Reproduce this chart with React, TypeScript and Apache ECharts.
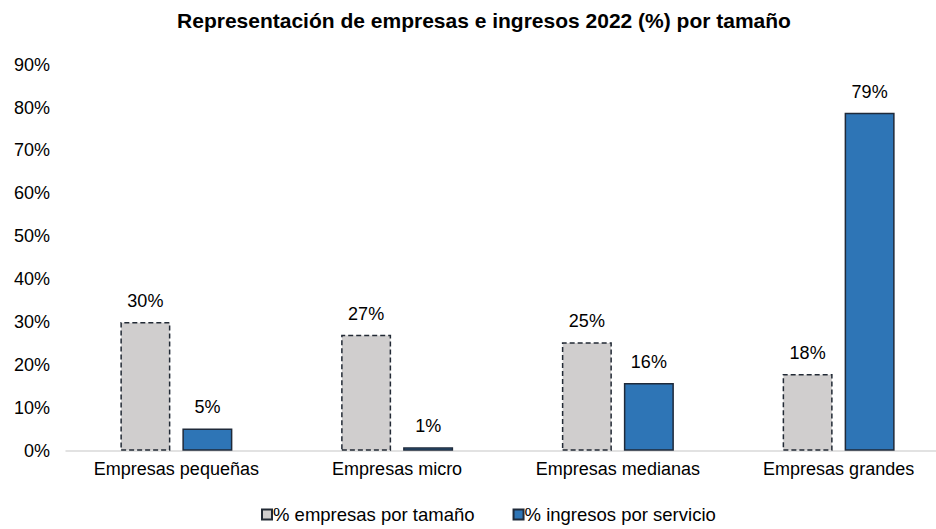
import React, { useEffect, useRef } from "react";
import * as echarts from "echarts";

const categories = ["Empresas pequeñas", "Empresas micro", "Empresas medianas", "Empresas grandes"];
const empresasPct = [30, 27, 25.3, 17.9];
const ingresosPct = [5.2, 0.8, 15.8, 78.8];
const seriesNames = ["% empresas por tamaño", "% ingresos por servicio"];
const titleText = "Representación de empresas e ingresos 2022 (%) por tamaño";

export default function App() {
  const ref = useRef<HTMLDivElement>(null);
  useEffect(() => {
    if (!ref.current) return;
    const chart = echarts.init(ref.current, undefined, { renderer: "svg" });
    const font = "Liberation Sans, Arial, sans-serif";
    chart.setOption({
      animation: false,
      backgroundColor: "#ffffff",
      textStyle: { fontFamily: font },
      title: {
        text: titleText,
        left: 479,
        top: 5,
        textAlign: "center",
        textStyle: { fontFamily: font, fontSize: 21, fontWeight: "bold", color: "#000000" },
      },
      legend: {
        bottom: 0,
        left: 256,
        orient: "horizontal",
        itemWidth: 10,
        itemHeight: 10,
        itemGap: 38,
        icon: "rect",
        textStyle: { fontFamily: font, fontSize: 18.5, color: "#000000", padding: [0, 0, 0, -4] },
        data: seriesNames,
      },
      grid: { left: 66, width: 883, top: 64.6, bottom: 78.3, containLabel: false },
      xAxis: {
        type: "category",
        data: categories,
        axisLine: { lineStyle: { color: "#d9d9d9", width: 1.5 } },
        axisTick: { show: false },
        axisLabel: { fontFamily: font, fontSize: 18, color: "#000000", margin: 9 },
      },
      yAxis: {
        type: "value",
        min: 0,
        max: 90,
        interval: 10,
        splitLine: { show: false },
        axisLine: { show: false },
        axisTick: { show: false },
        axisLabel: { fontFamily: font, fontSize: 18, color: "#000000", margin: 16, formatter: "{value}%" },
      },
      series: [
        {
          name: seriesNames[0],
          type: "bar",
          data: empresasPct,
          barWidth: 50,
          barGap: "24%",
          itemStyle: { color: "#d0cece", borderColor: "#222a35", borderWidth: 1.5, borderType: [5, 3] },
          label: {
            show: true,
            position: "top",
            distance: 12,
            fontFamily: font,
            fontSize: 18,
            color: "#000000",
            formatter: (p: any) => Math.round(p.value) + "%",
          },
        },
        {
          name: seriesNames[1],
          type: "bar",
          data: ingresosPct,
          barWidth: 50,
          itemStyle: { color: "#2e75b6", borderColor: "#1f2a3a", borderWidth: 1.5 },
          label: {
            show: true,
            position: "top",
            distance: 12,
            fontFamily: font,
            fontSize: 18,
            color: "#000000",
            formatter: (p: any) => Math.round(p.value) + "%",
          },
        },
      ],
    });
    return () => chart.dispose();
  }, []);
  return (
    <div
      style={{ position: "fixed", left: 0, top: 0, width: 936, height: 529, overflow: "hidden", background: "#fff" }}
    >
      <div ref={ref} style={{ width: 960, height: 529 }} />
    </div>
  );
}
